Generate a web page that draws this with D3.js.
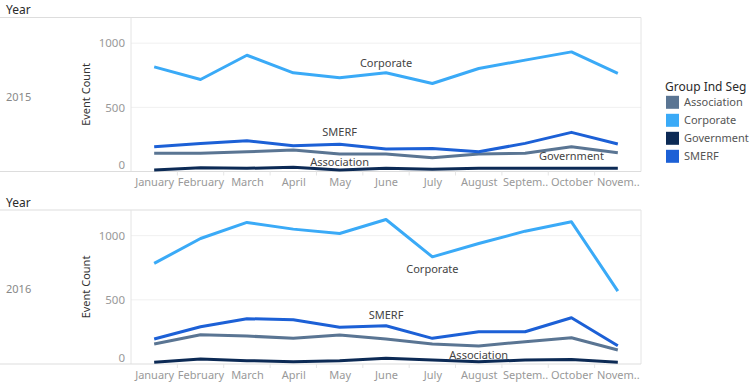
<!DOCTYPE html>
<html><head><meta charset="utf-8">
<script src="https://cdn.jsdelivr.net/npm/d3@7"></script>
<style>body{margin:0;background:#fff}svg{display:block}text{font-family:"Noto Sans",sans-serif}</style>
</head><body>
<script>
const months = ["January","February","March","April","May","June","July","August","September","October","November"];
const monthLabels = ["January","February","March","April","May","June","July","August","Septem..","October","Novem.."];
const segments = ["Association","Corporate","Government","SMERF"];
const colors = ["#5a7593","#3aaaf7","#0c2a55","#1c60d6"];
const years = ["2015","2016"];
const yTicks = [0,500,1000];

const assoc2015 = [142,142,154,167,136,136,107,136,142,193,146];
const corp2015  = [815,717,906,769,730,769,686,803,868,932,764];
const gov2015   = [12,30,25,33,12,25,17,25,25,25,25];
const smerf2015 = [193,219,240,201,212,175,180,154,219,305,214];

const assoc2016 = [156,228,218,200,226,195,156,140,174,205,109];
const corp2016  = [784,978,1103,1051,1017,1126,835,939,1035,1108,568];
const gov2016   = [13,39,26,18,26,44,31,18,31,36,13];
const smerf2016 = [195,290,353,345,286,298,200,251,251,360,142];

// label: [segment, month index, dy]
const labels2015 = [["Corporate",5,-10],["SMERF",4,-12],["Association",4,8],["Government",9,-12]];
const labels2016 = [["Corporate",6,12],["SMERF",5,-11],["Association",7,9]];

const data = {
  "2015": [assoc2015, corp2015, gov2015, smerf2015],
  "2016": [assoc2016, corp2016, gov2016, smerf2016]
};
const labelData = {"2015": labels2015, "2016": labels2016};

const W = 750, H = 382;
const svg = d3.select("body").append("svg").attr("width", W).attr("height", H);
const plotL = 131, plotR = 641;
const panels = [{top:17.5, bottom:171.5, head:10}, {top:210, bottom:364, head:203}];
const x = d3.scalePoint().domain(months).range([plotL, plotR]).padding(0.5);
const step = x.step();

years.forEach((yr, pi) => {
  const p = panels[pi];
  const y = d3.scaleLinear().domain([0,1200]).range([p.bottom, p.top]);
  const g = svg.append("g");
  // header
  g.append("text").attr("x",6).attr("y",p.head+4).attr("font-size",12).attr("fill","#2a2a2a").text("Year");
  g.append("line").attr("x1",0).attr("x2",plotR).attr("y1",p.top).attr("y2",p.top).attr("stroke","#ddd");
  // gridlines
  g.selectAll(".grid").data(yTicks.filter(d=>d>0)).join("line")
    .attr("x1",plotL).attr("x2",plotR).attr("y1",d=>y(d)).attr("y2",d=>y(d)).attr("stroke","#f0f0f0");
  // borders
  g.append("line").attr("x1",plotL).attr("x2",plotL).attr("y1",p.top).attr("y2",p.bottom).attr("stroke","#e4e4e4");
  g.append("line").attr("x1",plotR).attr("x2",plotR).attr("y1",p.top).attr("y2",p.bottom).attr("stroke","#e4e4e4");
  g.append("line").attr("x1",0).attr("x2",plotR).attr("y1",p.bottom).attr("y2",p.bottom).attr("stroke","#ddd");
  // x small ticks at band boundaries
  g.selectAll(".xt").data(months.slice(1)).join("line")
    .attr("x1",d=>x(d)-step/2).attr("x2",d=>x(d)-step/2).attr("y1",p.bottom).attr("y2",p.bottom+4).attr("stroke","#e6e6e6");
  // y axis labels
  const yAxis = d3.axisLeft(y).tickValues(yTicks).tickSize(0).tickPadding(0).tickFormat(d3.format("d"));
  const ya = g.append("g").attr("transform",`translate(125,0)`).call(yAxis);
  ya.select(".domain").remove();
  ya.selectAll("text").attr("font-size",11.5).attr("fill","#999").attr("font-family","Noto Sans")
    .attr("dy", d => d === 0 ? "-0.25em" : "0.32em");
  // x axis labels
  const xAxis = d3.axisBottom(x).tickSize(0).tickPadding(0).tickFormat((d,i)=>monthLabels[i]);
  const xa = g.append("g").attr("transform",`translate(0,${p.bottom+7})`).call(xAxis);
  xa.select(".domain").remove();
  xa.selectAll("text").attr("font-size",11).attr("fill","#999").attr("font-family","Noto Sans");
  // axis title
  const mid = (p.top+p.bottom)/2;
  g.append("text").attr("transform",`translate(90,${mid}) rotate(-90)`).attr("text-anchor","middle")
    .attr("font-size",11).attr("fill","#333").text("Event Count");
  // year
  g.append("text").attr("x",6).attr("y",mid+6).attr("font-size",11).attr("fill","#888").text(yr);
  // lines
  const line = d3.line().x((d,i)=>x(months[i])).y(d=>y(d));
  data[yr].forEach((vals, si) => {
    g.append("path").datum(vals).attr("d",line).attr("fill","none")
      .attr("stroke",colors[si]).attr("stroke-width",3).attr("stroke-linejoin","round");
  });
  // mark labels
  labelData[yr].forEach(([seg, mi, dy]) => {
    const si = segments.indexOf(seg);
    g.append("text").attr("x",x(months[mi])).attr("y",y(data[yr][si][mi])+dy).attr("dy","0.35em")
      .attr("text-anchor","middle").attr("font-size",11).attr("fill","#444").text(seg);
  });
});

// legend
const lg = svg.append("g");
lg.append("text").attr("x",665).attr("y",91).attr("font-size",12).attr("fill","#2a2a2a").text("Group Ind Seg");
segments.forEach((s,i)=>{
  const cy = 102.3 + i*18;
  lg.append("rect").attr("x",666).attr("y",cy-6.5).attr("width",13).attr("height",13).attr("fill",colors[i]);
  lg.append("text").attr("x",684).attr("y",cy).attr("dy","0.35em").attr("font-size",11).attr("fill","#555").text(s);
});
</script>
</body></html>
